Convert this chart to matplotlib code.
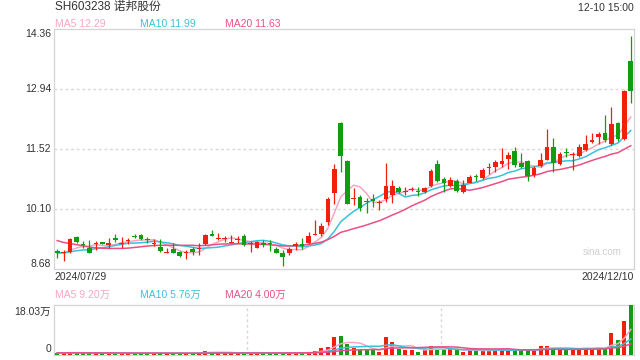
import numpy as np
import pandas as pd
import matplotlib
matplotlib.use("Agg")
import matplotlib.pyplot as plt
import matplotlib.transforms as mtransforms

plt.rcParams['font.family'] = ['Liberation Sans', 'Noto Sans CJK SC', 'DejaVu Sans']

# daily OHLC, 2024/07/29 .. 2024/12/10
opens = [9.11, 9.05, 9.09, 9.43, 9.27, 9.17, 9.28, 9.31, 9.25, 9.41,
         9.27, 9.34, 9.47, 9.48, 9.40, 9.26, 9.21, 9.05, 9.15, 9.09,
         9.05, 9.15, 9.15, 9.26, 9.52, 9.40, 9.39, 9.30, 9.36, 9.46,
         9.28, 9.18, 9.30, 9.27, 9.16, 9.05, 9.05, 9.23, 9.26, 9.29,
         9.49, 9.50, 9.80, 10.47, 12.14, 11.24, 10.34, 10.38, 10.30, 10.31,
         10.25, 10.33, 10.43, 10.59, 10.50, 10.56, 10.52, 10.51, 10.65, 11.16,
         10.81, 10.64, 10.77, 10.51, 10.72, 10.87, 10.84, 11.07, 11.10, 11.16,
         11.28, 11.47, 11.18, 11.24, 10.90, 11.12, 11.27, 11.57, 11.17, 11.44,
         11.38, 11.36, 11.50, 11.69, 11.81, 11.91, 11.63, 12.14, 11.75, 13.60]
highs = [9.15, 9.13, 9.41, 9.46, 9.35, 9.37, 9.35, 9.33, 9.41, 9.50,
         9.43, 9.41, 9.52, 9.50, 9.43, 9.38, 9.38, 9.17, 9.29, 9.11,
         9.13, 9.21, 9.29, 9.50, 9.60, 9.54, 9.45, 9.48, 9.46, 9.50,
         9.35, 9.35, 9.37, 9.37, 9.21, 9.13, 9.21, 9.33, 9.41, 9.56,
         9.84, 9.76, 10.38, 11.16, 12.17, 11.26, 10.59, 10.43, 10.35, 10.45,
         10.31, 11.18, 10.79, 10.64, 10.61, 10.63, 10.61, 10.61, 11.04, 11.26,
         10.86, 10.86, 10.80, 10.79, 10.90, 10.94, 11.06, 11.18, 11.26, 11.54,
         11.46, 11.56, 11.42, 11.27, 11.12, 11.43, 11.99, 11.77, 11.46, 11.54,
         11.46, 11.65, 11.85, 11.91, 11.93, 12.33, 12.51, 12.15, 12.91, 14.19]
lows = [8.95, 8.88, 9.07, 9.29, 9.18, 9.05, 9.13, 9.26, 9.17, 9.33,
        9.18, 9.27, 9.41, 9.37, 9.29, 9.23, 9.09, 9.05, 9.05, 8.97,
        8.91, 9.01, 9.01, 9.24, 9.45, 9.37, 9.33, 9.29, 9.30, 9.22,
        9.09, 9.17, 9.21, 9.11, 9.05, 8.76, 9.01, 9.13, 9.15, 9.27,
        9.49, 9.46, 9.72, 10.21, 10.97, 10.21, 10.19, 10.05, 10.01, 10.15,
        10.08, 10.27, 10.25, 10.47, 10.43, 10.53, 10.41, 10.49, 10.63, 10.75,
        10.51, 10.61, 10.51, 10.49, 10.71, 10.77, 10.82, 10.94, 10.98, 11.10,
        11.04, 11.10, 11.08, 10.77, 10.85, 11.10, 11.25, 10.98, 11.14, 11.32,
        11.02, 11.34, 11.47, 11.67, 11.64, 11.69, 11.61, 11.71, 11.73, 12.60]
closes = [9.05, 9.09, 9.39, 9.31, 9.24, 9.07, 9.29, 9.28, 9.30, 9.37,
          9.28, 9.37, 9.43, 9.39, 9.37, 9.29, 9.11, 9.09, 9.07, 8.99,
          9.09, 9.09, 9.18, 9.48, 9.46, 9.41, 9.40, 9.33, 9.37, 9.25,
          9.29, 9.33, 9.25, 9.26, 9.07, 8.96, 9.15, 9.27, 9.22, 9.46,
          9.50, 9.70, 10.34, 11.04, 11.36, 10.22, 10.36, 10.13, 10.27, 10.30,
          10.26, 10.64, 10.64, 10.51, 10.51, 10.58, 10.51, 10.59, 11.00, 10.77,
          10.71, 10.79, 10.53, 10.67, 10.86, 10.85, 11.02, 11.08, 11.21, 11.24,
          11.38, 11.13, 11.10, 10.88, 11.08, 11.26, 11.57, 11.18, 11.40, 11.42,
          11.39, 11.57, 11.64, 11.73, 11.87, 11.73, 12.11, 11.75, 12.89, 12.90]
# volume, 万 shares
volumes = [0.8, 0.7, 1.2, 0.8, 0.6, 0.7, 0.6, 0.5, 0.7, 0.6,
           0.6, 0.5, 0.7, 0.8, 0.6, 0.6, 0.7, 0.5, 0.6, 0.7,
           0.6, 0.6, 0.8, 1.6, 1.2, 0.7, 0.6, 0.6, 0.6, 0.8,
           0.7, 0.7, 0.6, 0.8, 0.7, 0.9, 0.8, 0.7, 0.8, 1.0,
           1.4, 2.6, 2.9, 6.5, 6.8, 3.8, 2.6, 1.7, 1.7, 1.7,
           1.1, 6.5, 4.7, 2.3, 1.7, 1.7, 1.1, 2.3, 3.2, 2.0,
           2.0, 2.0, 2.0, 1.1, 1.7, 1.7, 1.7, 1.7, 1.7, 2.0,
           1.8, 2.0, 1.6, 2.2, 1.6, 3.2, 3.4, 2.6, 2.2, 1.8,
           2.2, 2.3, 2.4, 2.2, 2.47, 2.5, 7.8, 5.4, 12.3, 18.03]

# closes / volumes before the window, only used so the MA lines start at the left edge
prior_closes = [9.95, 9.90, 9.85, 9.78, 9.70, 9.60, 9.50, 9.40, 9.35, 9.30,
                9.20, 9.12, 9.05, 9.05, 9.03, 9.02, 9.08, 9.06, 9.04]
prior_volumes = [1.0, 0.9, 0.9, 0.8, 0.8, 0.9, 0.7, 0.8, 0.8, 0.7,
                 0.8, 0.7, 0.8, 0.7, 0.7, 0.8, 0.7, 0.7, 0.8]

# values shown in the headers
ma_windows = [5, 10, 20]
price_ma_text = ['12.29', '11.99', '11.63']
vol_ma_text = ['9.20万', '5.76万', '4.00万']

price_ticks = [8.68, 10.10, 11.52, 12.94, 14.36]
vol_max = 18.03

RED = '#f0200c'
GREEN = '#109e10'
MA_COLORS = {5: '#f7a6c2', 10: '#39c2dc', 20: '#ea4f86'}
BOX = '#d4d4d4'
TXT = '#333333'

n = len(closes)
x = np.arange(n)
c_all = pd.Series(prior_closes + closes)
v_all = pd.Series(prior_volumes + volumes)
ma = {w: c_all.rolling(w).mean().values[-n:] for w in ma_windows}
vma = {w: v_all.rolling(w).mean().values[-n:] for w in ma_windows}

fig = plt.figure(figsize=(6.4, 3.6), dpi=100)
ax = fig.add_axes([54 / 640, 91 / 360, 580 / 640, 240 / 360])
axv = fig.add_axes([54 / 640, 5 / 360, 580 / 640, 50 / 360])

o = np.array(opens); c = np.array(closes); h = np.array(highs); l = np.array(lows)
up = c >= o
colors = np.where(up, RED, GREEN)

# candles
ax.vlines(x, l, h, colors=colors, lw=0.9, zorder=3)
body_lo = np.minimum(o, c)
body_h = np.maximum(np.abs(c - o), 0.025)
ax.bar(x, body_h, bottom=body_lo, width=0.72, color=colors, lw=0, zorder=4)

for w in ma_windows:
    ax.plot(x, ma[w], color=MA_COLORS[w], lw=1.1, zorder=2)

ax.set_xlim(-0.5, n - 0.5)
ax.set_ylim(price_ticks[0], price_ticks[-1])
ax.set_xticks([])
ax.set_yticks([])
for yv in price_ticks[1:-1]:
    ax.axhline(yv, color='#d8d8d8', lw=1, ls=(0, (2, 2)), zorder=1)
for s in ax.spines.values():
    s.set_color(BOX)
    s.set_linewidth(0.9)

trans = mtransforms.blended_transform_factory(ax.transAxes, ax.transData)
for i, yv in enumerate(price_ticks):
    va = 'center'
    if i == 0:
        va = 'bottom'
    elif i == len(price_ticks) - 1:
        va = 'top'
    ax.text(-0.005, yv, f'{yv:.2f}', transform=trans, ha='right', va=va,
            fontsize=7.5, color=TXT)

ax.text(0.0, -0.012, '2024/07/29', transform=ax.transAxes, ha='left', va='top',
        fontsize=7.5, color=TXT)
ax.text(1.0, -0.012, '2024/12/10', transform=ax.transAxes, ha='right', va='top',
        fontsize=7.5, color=TXT)
ax.text(0.945, 0.07, 'sina.com', transform=ax.transAxes, ha='center', va='center',
        fontsize=7, color='#cfcfcf')

# volume
axv.bar(x, volumes, width=0.62, color=colors, lw=0, zorder=3)
for w in ma_windows:
    axv.plot(x, vma[w], color=MA_COLORS[w], lw=1.1, zorder=4)
axv.set_xlim(-0.5, n - 0.5)
axv.set_ylim(0, vol_max)
axv.set_xticks([])
axv.set_yticks([])
for xv in (n / 3 - 0.5, 2 * n / 3 - 0.5):
    axv.axvline(xv, color='#d8d8d8', lw=1, ls=(0, (2, 2)), zorder=1)
for s in axv.spines.values():
    s.set_color(BOX)
    s.set_linewidth(0.9)
axv.text(-0.005, 0.96, f'{vol_max:.2f}万', transform=axv.transAxes, ha='right', va='top',
         fontsize=7.5, color=TXT)
axv.text(-0.005, 0.02, '0', transform=axv.transAxes, ha='right', va='bottom',
         fontsize=7.5, color=TXT)

# header texts
fig.text(55 / 640, 1 - 7 / 360, 'SH603238 诺邦股份', ha='left', va='center',
         fontsize=8.5, color=TXT)
fig.text(634 / 640, 1 - 8 / 360, '12-10 15:00', ha='right', va='center',
         fontsize=7.5, color=TXT)
for xp, w, pt, vt in zip((55, 140, 225), ma_windows, price_ma_text, vol_ma_text):
    fig.text(xp / 640, 1 - 24 / 360, f'MA{w} {pt}', ha='left', va='center',
             fontsize=7.5, color=MA_COLORS[w])
    fig.text(xp / 640, 1 - 295 / 360, f'MA{w} {vt}', ha='left', va='center',
             fontsize=7.5, color=MA_COLORS[w])

fig.savefig('out.png', dpi=100)
